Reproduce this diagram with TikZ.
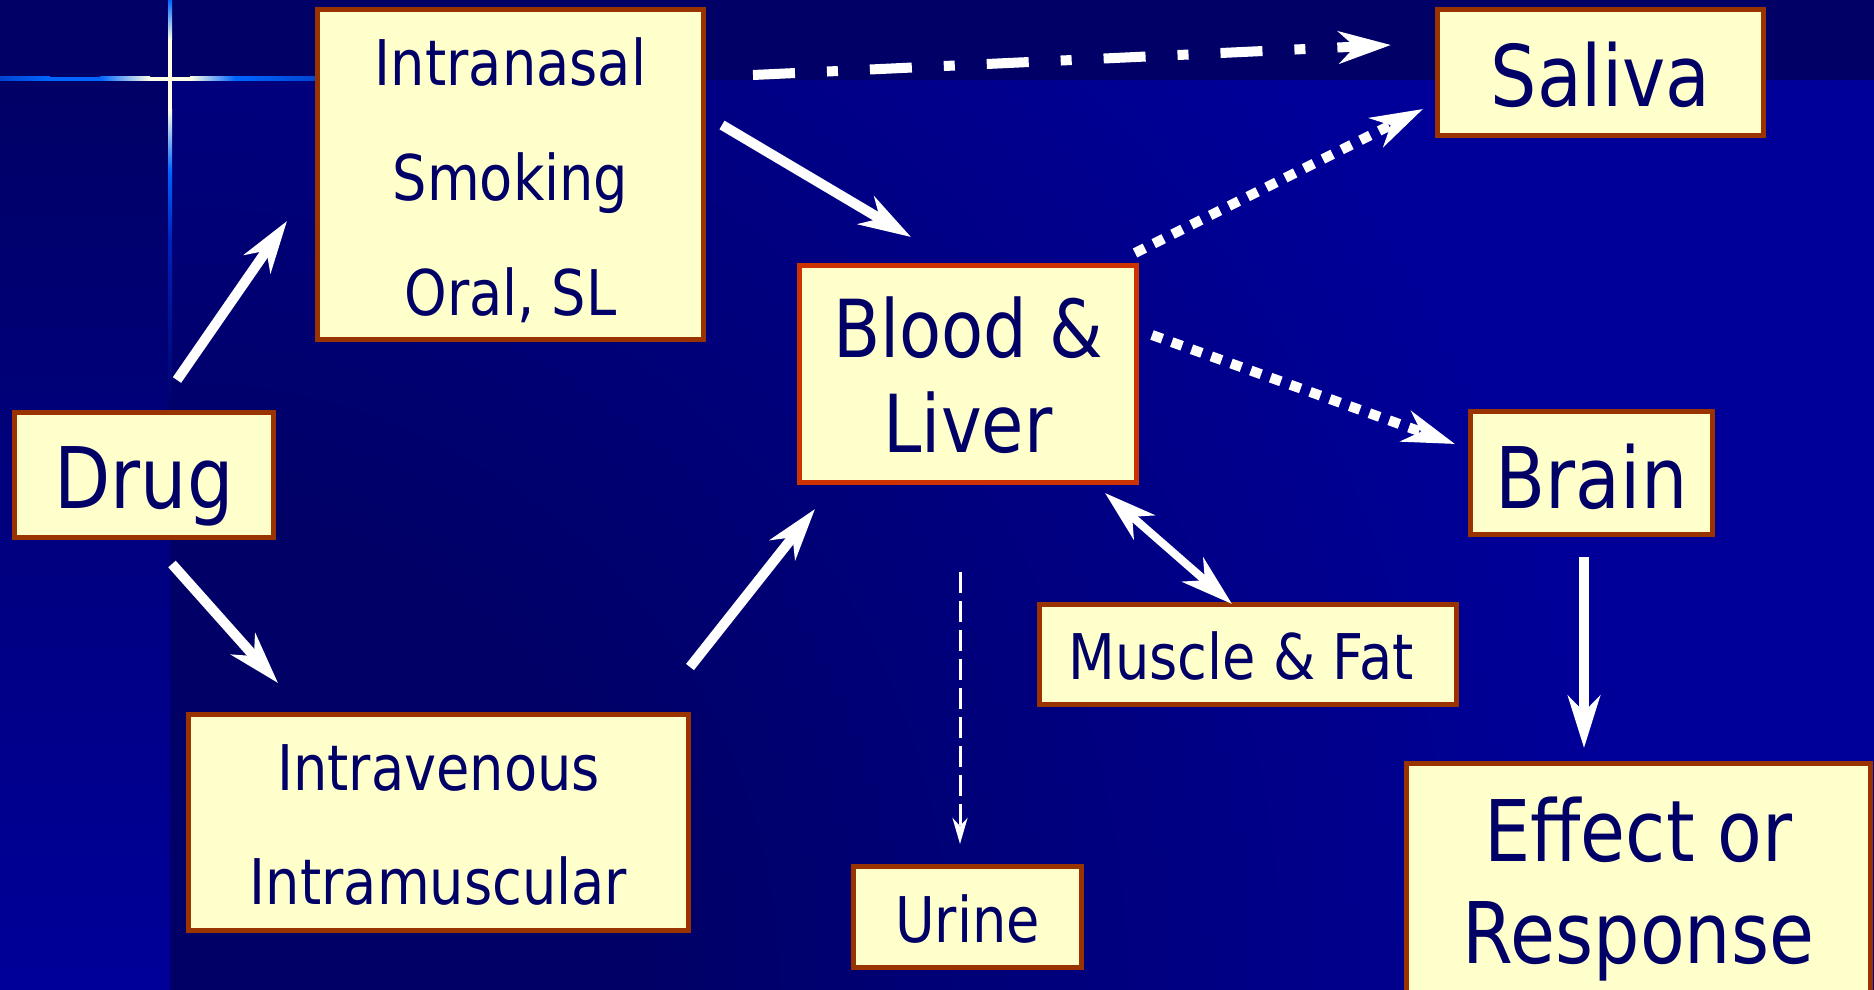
\documentclass[tikz,border=0pt]{standalone}
\usepackage{fontspec}
\setmainfont[FakeStretch=0.86]{DejaVu Sans}
\usetikzlibrary{arrows.meta}
\definecolor{bgdark}{HTML}{000066}
\definecolor{bgbright}{HTML}{000099}
\definecolor{boxfill}{HTML}{FFFFCC}
\definecolor{boxedge}{HTML}{993300}
\definecolor{bloodedge}{HTML}{CC3300}
\definecolor{navytext}{HTML}{000066}
\definecolor{starblue}{HTML}{0066FF}
\definecolor{stardark}{HTML}{0044D0}
\definecolor{stardeep}{HTML}{0022BB}
\definecolor{starwhite}{HTML}{FFFFE6}
\pgfdeclareradialshading{bgglow}{\pgfpointorigin}{color(0bp)=(bgdark); color(8bp)=(bgdark); color(25bp)=(bgbright); color(50bp)=(bgbright)}
\begin{document}
\begin{tikzpicture}[x=0.5pt,y=-0.5pt,
  box/.style={rectangle, draw=boxedge, line width=2.5pt, fill=boxfill, text=navytext, inner sep=0pt, align=center},
  bigtxt/.style={font=\fontsize{42.5}{48}\selectfont},
  smalltxt/.style={font=\fontsize{31.5}{57.5}\selectfont},
  arr/.style={draw=white, line width=5pt, -{Stealth[length=26pt,width=16pt,inset=8pt]}},
  dotarr/.style={arr, dash pattern=on 5.5pt off 5pt},
  dasharr/.style={arr, dash pattern=on 21pt off 16pt on 5.5pt off 16pt},
  thinarr/.style={draw=white, line width=1.5pt, dash pattern=on 10.5pt off 4pt, -{Stealth[length=13pt,width=7.5pt,inset=4pt]}},
  duoarr/.style={draw=white, line width=4pt, {Stealth[length=26pt,width=16pt,inset=8pt]}-{Stealth[length=26pt,width=16pt,inset=8pt]}}
]
\useasboundingbox (0,0) rectangle (1874,990);
\begin{scope}
\clip (0,0) rectangle (1874,990);
% background
\fill[bgbright] (170,80) rectangle (1874,990);
\begin{scope}
\clip (170,80) rectangle (1874,990);
\shade[shading=bgglow] (170,990) circle (1450);
\end{scope}
\shade[top color=bgdark, bottom color=bgbright] (0,80) rectangle (170,990);
\fill[bgdark] (0,0) rectangle (1874,80);
% star
\shade[left color=stardark, right color=starblue] (0,77) rectangle (50,81);
\fill[starblue] (50,77) rectangle (100,81);
\shade[left color=starblue, right color=starwhite] (100,77) rectangle (150,81);
\fill[starwhite] (150,77) rectangle (190,81);
\shade[left color=starwhite, right color=starblue] (190,77) rectangle (235,81);
\shade[left color=starblue, right color=stardark] (235,77) rectangle (320,81);
\shade[top color=starblue, bottom color=starwhite] (168,0) rectangle (172,40);
\fill[starwhite] (168,40) rectangle (172,110);
\shade[top color=starwhite, bottom color=starblue] (168,110) rectangle (172,170);
\shade[top color=starblue, bottom color=stardeep] (168,170) rectangle (172,240);
\shade[top color=stardeep, bottom color=bgdark] (168,240) rectangle (172,410);
% boxes
\node[box, smalltxt, minimum width=193pt, minimum height=165pt] (intra) at (510.5,174.5)
  {\rule{0pt}{30pt}Intranasal\\Smoking\\Oral, SL};
\node[box, bigtxt, minimum width=163pt, minimum height=63pt, text height=34.5pt, text depth=0pt] (saliva) at (1600.5,72.5) {Saliva};
\node[box, draw=bloodedge, font=\fontsize{40}{47.5}\selectfont, minimum width=168.5pt, minimum height=108.5pt] (blood) at (968,374)
  {\rule{0pt}{31.5pt}Blood \&\\Liver};
\node[box, bigtxt, minimum width=129.5pt, minimum height=62.5pt, text height=33pt, text depth=0pt] (drug) at (144,475) {Drug};
\node[box, bigtxt, minimum width=121pt, minimum height=61.5pt, text height=35pt, text depth=0pt] (brain) at (1591.5,473) {Brain};
\node[box, smalltxt, minimum width=208.5pt, minimum height=50pt, text height=24.5pt, text depth=0pt] (muscle) at (1248,654.5) {Muscle \& Fat\kern7pt};
\node[box, font=\fontsize{31.5}{57}\selectfont, minimum width=250pt, minimum height=108pt] (iv) at (438.5,822.5)
  {\rule{0pt}{25.5pt}Intravenous\\Intramuscular};
\node[box, smalltxt, minimum width=114pt, minimum height=50.5pt, text height=25pt, text depth=0pt] (urine) at (967.5,917) {Urine};
\node[box, font=\fontsize{42.5}{51}\selectfont, minimum width=232pt, minimum height=125.75pt] (effect) at (1638.5,889)
  {Effect or\\Response};
% connector end points
\coordinate (drugup) at (177,380);
\coordinate (intrain) at (287,221);
\coordinate (drugdown) at (172,564);
\coordinate (ivin) at (278,683);
\coordinate (intraout) at (722,125);
\coordinate (bloodin) at (911,237);
\coordinate (intraside) at (753,75);
\coordinate (salivain) at (1391,45);
\coordinate (bloodup) at (1135,253);
\coordinate (salivalow) at (1423,109);
\coordinate (bloodright) at (1152,335);
\coordinate (brainin) at (1455,444);
\coordinate (bloodlow) at (1105,493);
\coordinate (musclein) at (1232,604);
\coordinate (ivout) at (690,667);
\coordinate (bloodbottom) at (815,509);
\coordinate (bloodurine) at (960,572);
\coordinate (urinein) at (960,844);
\coordinate (brainout) at (1584,557);
\coordinate (effectin) at (1584,748);
% connectors
\draw[arr] (drugup) -- (intrain);
\draw[arr] (drugdown) -- (ivin);
\draw[arr] (intraout) -- (bloodin);
\draw[dasharr] (intraside) -- (salivain);
\draw[dotarr] (bloodup) -- (salivalow);
\draw[dotarr] (bloodright) -- (brainin);
\draw[duoarr] (bloodlow) -- (musclein);
\draw[arr] (ivout) -- (bloodbottom);
\draw[thinarr] (bloodurine) -- (urinein);
\draw[arr] (brainout) -- (effectin);
\end{scope}
\end{tikzpicture}
\end{document}
